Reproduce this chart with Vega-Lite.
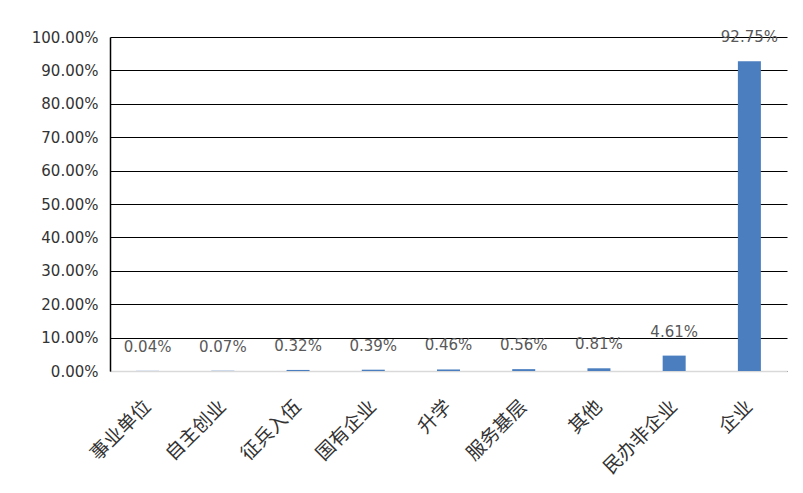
{
  "$schema": "https://vega.github.io/schema/vega-lite/v6.json",
  "width": 677,
  "height": 334,
  "autosize": "none",
  "padding": {"left": 110, "top": 37, "right": 16, "bottom": 122},
  "background": "white",
  "config": {"view": {"stroke": null}},
  "data": {
    "values": [
      {"category": "事业单位", "value": 0.0004, "label": "0.04%"},
      {"category": "自主创业", "value": 0.0007, "label": "0.07%"},
      {"category": "征兵入伍", "value": 0.0032, "label": "0.32%"},
      {"category": "国有企业", "value": 0.0039, "label": "0.39%"},
      {"category": "升学", "value": 0.0046, "label": "0.46%"},
      {"category": "服务基层", "value": 0.0056, "label": "0.56%"},
      {"category": "其他", "value": 0.0081, "label": "0.81%"},
      {"category": "民办非企业", "value": 0.0461, "label": "4.61%"},
      {"category": "企业", "value": 0.9275, "label": "92.75%"}
    ]
  },
  "encoding": {
    "x": {
      "field": "category",
      "type": "nominal",
      "sort": null,
      "title": null,
      "axis": {
        "labelAngle": -45,
        "labelAlign": "right",
        "labelBaseline": "middle",
        "labelPadding": 32,
        "labelFont": "Noto Sans CJK SC",
        "labelFontSize": 19,
        "labelColor": "#333333",
        "ticks": false,
        "domainColor": "#d9d9d9",
        "domainWidth": 1.5
      }
    },
    "y": {
      "field": "value",
      "type": "quantitative",
      "title": null,
      "scale": {"domain": [0, 1]},
      "axis": {
        "values": [0, 0.1, 0.2, 0.3, 0.4, 0.5, 0.6, 0.7, 0.8, 0.9, 1.0],
        "format": ".2%",
        "labelFont": "DejaVu Sans",
        "labelFontSize": 15,
        "labelColor": "#333333",
        "labelPadding": 12,
        "ticks": false,
        "domainColor": "#000000",
        "domainWidth": 1.5,
        "grid": true,
        "gridColor": "#000000",
        "gridWidth": 1.2
      }
    }
  },
  "layer": [
    {
      "mark": {"type": "bar", "color": "#4a7ebf", "size": 23}
    },
    {
      "mark": {
        "type": "text",
        "baseline": "bottom",
        "dy": -16,
        "font": "DejaVu Sans",
        "fontSize": 15,
        "color": "#595959"
      },
      "encoding": {"text": {"field": "label"}}
    }
  ]
}
